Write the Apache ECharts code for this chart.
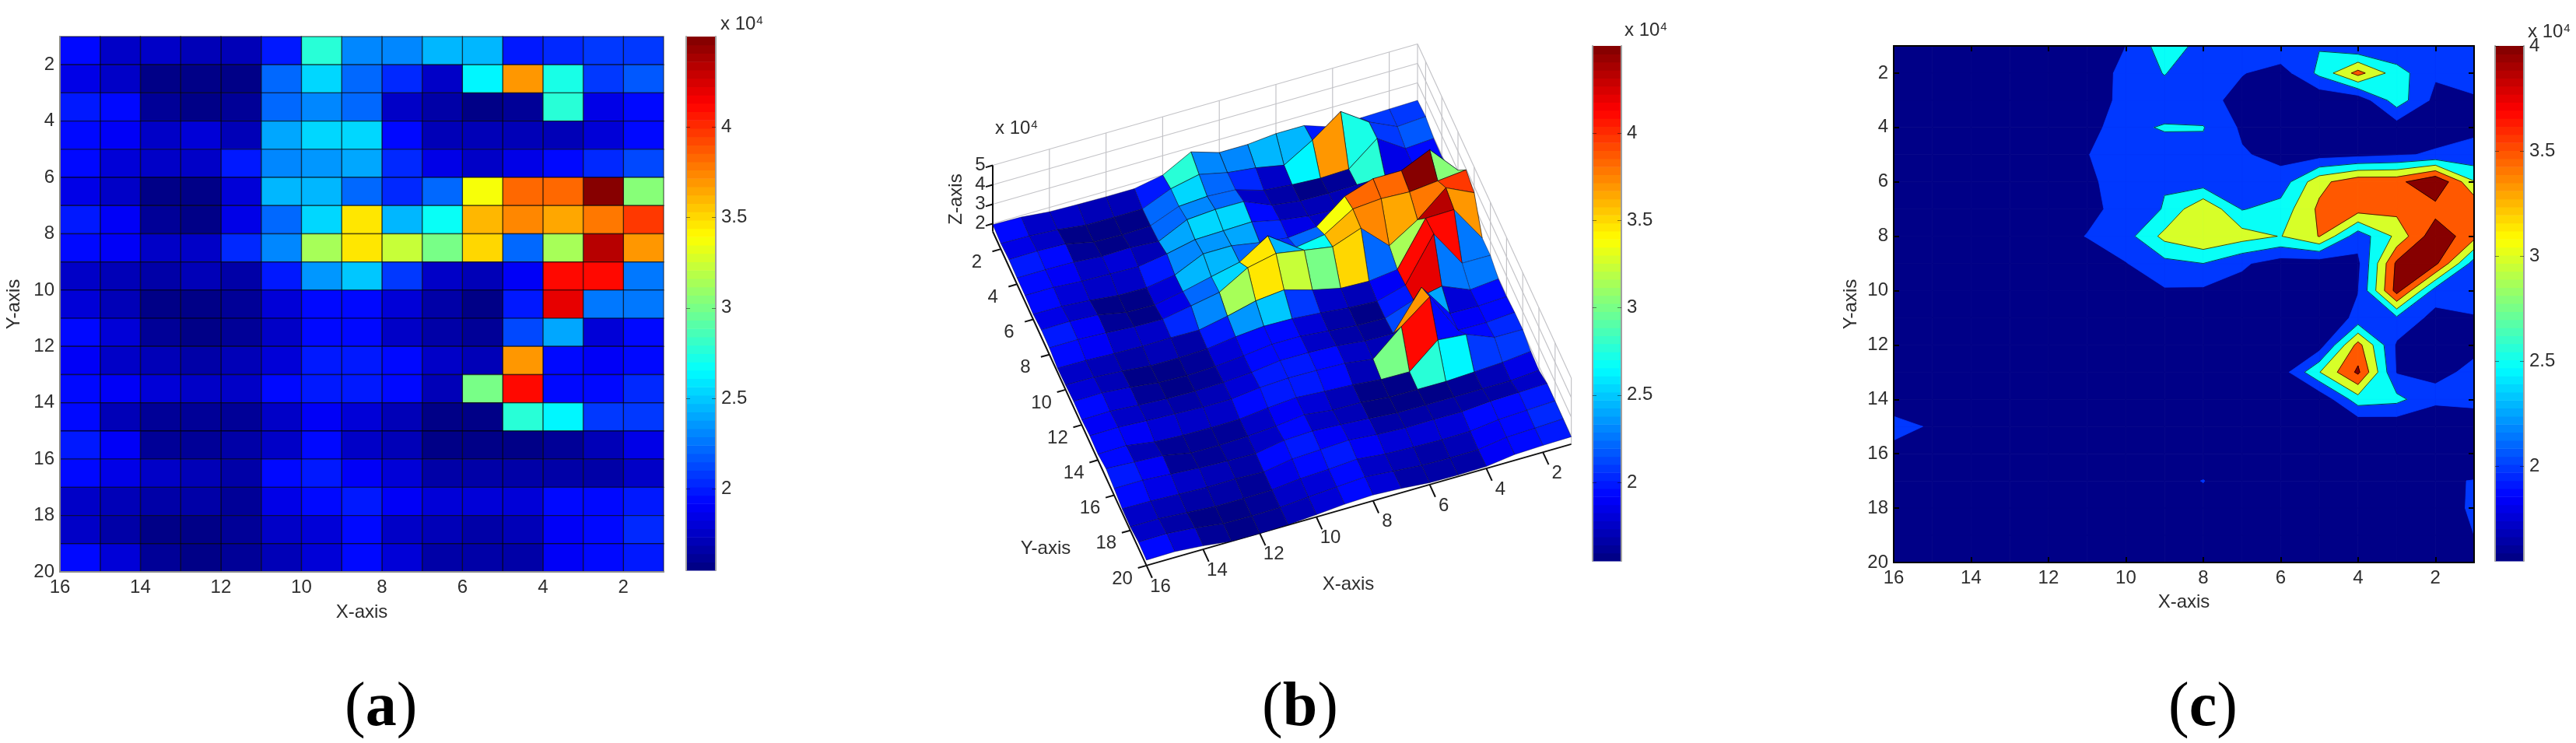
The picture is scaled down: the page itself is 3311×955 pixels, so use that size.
<!DOCTYPE html>
<html>
<head>
<meta charset="utf-8">
<style>
  html, body { margin: 0; padding: 0; background: #fff; }
  #chart { width: 3311px; height: 955px; }
</style>
<script src="https://cdn.jsdelivr.net/npm/echarts@6/dist/echarts.min.js"></script>
</head>
<body>
<div id="chart"></div>
<script>
// x runs 16..1, y runs 1..20, z is in units of 10^4
const xValues = [16, 15, 14, 13, 12, 11, 10, 9, 8, 7, 6, 5, 4, 3, 2, 1];
const xTicks = [16, 14, 12, 10, 8, 6, 4, 2];
const yTicks = [2, 4, 6, 8, 10, 12, 14, 16, 18, 20];
const zTicks3d = [2, 3, 4, 5];
const barTicks = [2, 2.5, 3, 3.5, 4];
const contourLevels = [1.5, 2, 2.5, 3, 3.5, 4];

const row01 = [1.95, 1.92, 1.78, 1.74, 1.72, 1.72, 2.00, 2.78, 2.33, 2.33, 2.47, 2.47, 1.98, 2.03, 2.07, 2.10];
const row02 = [1.88, 1.85, 1.76, 1.58, 1.57, 1.58, 2.20, 2.52, 2.20, 2.03, 1.75, 2.62, 3.68, 2.72, 2.07, 2.17];
const row03 = [1.96, 1.98, 1.93, 1.62, 1.57, 1.62, 2.20, 2.30, 2.22, 1.78, 1.65, 1.57, 1.62, 2.78, 1.85, 1.95];
const row04 = [1.92, 1.92, 1.90, 1.78, 1.82, 1.72, 2.42, 2.53, 2.52, 1.92, 1.72, 1.70, 1.72, 1.72, 1.82, 1.92];
const row05 = [1.92, 1.92, 1.82, 1.78, 1.74, 1.98, 2.30, 2.34, 2.38, 2.05, 1.85, 1.78, 1.85, 1.95, 2.05, 2.13];
const row06 = [1.86, 1.85, 1.74, 1.58, 1.56, 1.80, 2.47, 2.47, 2.22, 2.05, 2.20, 3.35, 3.84, 3.84, 4.50, 3.03];
const row07 = [1.96, 1.98, 1.90, 1.62, 1.58, 1.85, 2.20, 2.53, 3.47, 2.47, 2.70, 3.60, 3.72, 3.65, 3.80, 3.95];
const row08 = [1.94, 1.95, 1.88, 1.78, 1.75, 2.02, 2.30, 3.15, 3.47, 3.22, 2.98, 3.52, 2.20, 3.12, 4.35, 3.68];
const row09 = [1.80, 1.78, 1.72, 1.68, 1.70, 1.68, 1.98, 2.35, 2.50, 2.08, 1.75, 1.70, 1.88, 4.10, 4.13, 2.25];
const row10 = [1.84, 1.82, 1.72, 1.58, 1.57, 1.62, 1.82, 1.95, 1.92, 1.80, 1.65, 1.57, 1.98, 4.20, 2.28, 2.27];
const row11 = [1.90, 1.92, 1.80, 1.62, 1.57, 1.62, 1.75, 1.92, 1.92, 1.78, 1.65, 1.60, 2.12, 2.42, 1.82, 1.96];
const row12 = [1.86, 1.88, 1.78, 1.70, 1.67, 1.70, 1.80, 1.99, 1.98, 1.92, 1.75, 1.72, 3.68, 1.92, 1.88, 1.95];
const row13 = [1.94, 1.96, 1.88, 1.82, 1.75, 1.75, 1.92, 1.99, 1.97, 1.92, 1.72, 2.98, 4.10, 1.96, 1.94, 2.05];
const row14 = [1.90, 1.92, 1.70, 1.62, 1.60, 1.62, 1.78, 1.90, 1.80, 1.72, 1.58, 1.56, 2.78, 2.65, 2.08, 2.07];
const row15 = [2.06, 1.98, 1.90, 1.62, 1.60, 1.65, 1.75, 1.92, 1.74, 1.72, 1.58, 1.56, 1.55, 1.62, 1.70, 1.85];
const row16 = [1.94, 1.95, 1.85, 1.75, 1.70, 1.66, 1.92, 1.98, 1.90, 1.80, 1.68, 1.66, 1.66, 1.66, 1.66, 1.78];
const row17 = [1.80, 1.78, 1.72, 1.66, 1.68, 1.62, 1.86, 1.93, 2.005, 1.88, 1.80, 1.82, 1.80, 1.92, 1.96, 2.01];
const row18 = [1.78, 1.78, 1.68, 1.58, 1.57, 1.60, 1.76, 1.82, 1.93, 1.78, 1.72, 1.68, 1.70, 1.88, 1.95, 2.015];
const row19 = [1.90, 1.92, 1.80, 1.60, 1.58, 1.60, 1.72, 1.82, 1.92, 1.80, 1.68, 1.65, 1.66, 1.88, 1.93, 2.00];
const row20 = [1.88, 1.90, 1.78, 1.60, 1.58, 1.62, 1.72, 1.84, 1.90, 1.82, 1.70, 1.68, 1.70, 1.90, 1.95, 1.98];
const zRows = [row01, row02, row03, row04, row05, row06, row07, row08, row09, row10,
  row11, row12, row13, row14, row15, row16, row17, row18, row19, row20];

const fontFamily = '"Liberation Sans", Arial, sans-serif';
const serifFamily = '"Liberation Serif", serif';
const textColor = '#2e2e2e';
const fontSize = 24;

const zAt = (x, y) => zRows[y - 1][xValues.indexOf(x)];

// matlab jet, 64 steps
const jet = t => {
  const step = Math.min(63, Math.max(0, Math.floor(t * 64)));
  const v = (step + 0.5) / 64;
  const ramp = c => Math.round(255 * Math.max(0, Math.min(1, 1.5 - Math.abs(4 * v - c))));
  return `rgb(${ramp(3)},${ramp(2)},${ramp(1)})`;
};
const colorAB = z => jet((z - 1.55) / (4.5 - 1.55));
const colorC = z => jet((z - 1.55) / (4 - 1.55));

// every cell / facet: its lower corner, coloured by that corner's value
const cells = [];
for (let y = 1; y <= 19; y++) {
  for (let x = 1; x <= 15; x++) {
    cells.push([x, y, zAt(x, y)]);
  }
}

// filled contours: clip each grid square against each level
const clipCell = (corners, level) => {
  const out = [];
  const lines = [];
  corners.forEach((a, i) => {
    const b = corners[(i + 1) % 4];
    if (a[2] >= level) out.push([a[0], a[1], false]);
    if ((a[2] >= level) !== (b[2] >= level)) {
      const k = (level - a[2]) / (b[2] - a[2]);
      out.push([a[0] + k * (b[0] - a[0]), a[1] + k * (b[1] - a[1]), true]);
    }
  });
  out.forEach((p, i) => {
    const q = out[(i + 1) % out.length];
    if (p[2] && q[2]) lines.push([p, q]);
  });
  return { out, lines };
};
const contourFills = [];
const contourLines = [];
contourLevels.forEach(level => {
  cells.forEach(([x, y]) => {
    const corners = [[x, y], [x + 1, y], [x + 1, y + 1], [x, y + 1]].map(p => [p[0], p[1], zAt(p[0], p[1])]);
    const { out, lines } = clipCell(corners, level);
    if (out.length > 2) contourFills.push({ level, points: out });
    if (level > contourLevels[1]) contourLines.push(...lines);
  });
});

// orthographic view of panel b, in page pixels
const project = (x, y, z) => [
  1276 + (16 - x) * 36.4 + (y - 1) * 10.4,
  290 - (16 - x) * 10.4 + (y - 1) * 22.6 - (z - 1.9) * 25
];
const zFloor = 1.6;

const wallLines = [];
zTicks3d.forEach(z => {
  wallLines.push([[16, 1, z], [1, 1, z]], [[1, 1, z], [1, 20, z]]);
});
xTicks.forEach(x => wallLines.push([[x, 1, zFloor], [x, 1, 5]]));
yTicks.forEach(y => wallLines.push([[1, y, zFloor], [1, y, 5]]));
wallLines.push([[1, 1, zFloor], [1, 1, 5]]);

const axisLines3d = [
  [[16, 1, zFloor], [16, 20, zFloor]],
  [[16, 20, zFloor], [1, 20, zFloor]],
  [[16, 1, zFloor], [16, 1, 5]]
];
xTicks.forEach(x => axisLines3d.push([[x, 20, zFloor], [x, 20.7, zFloor]]));
yTicks.forEach(y => axisLines3d.push([[16, y, zFloor], [16.3, y, zFloor]]));
zTicks3d.forEach(z => axisLines3d.push([[16, 1, z], [16.25, 1, z]]));

const labels3d = [];
xTicks.forEach(x => {
  const p = project(x, 20, zFloor);
  labels3d.push({ text: String(x), u: p[0] + 18, v: p[1] + 27 });
});
yTicks.forEach(y => {
  const p = project(16, y, zFloor);
  labels3d.push({ text: String(y), u: p[0] - 31, v: p[1] + 17 });
});
zTicks3d.forEach(z => {
  const p = project(16, 1, z);
  labels3d.push({ text: String(z), u: p[0] - 16, v: p[1] });
});

// colourbar steps
const barSteps = (lo, hi) => {
  const steps = [];
  for (let i = 0; i < 64; i++) {
    steps.push([lo + (hi - lo) * i / 64, lo + (hi - lo) * (i + 1) / 64]);
  }
  return steps;
};

const grids = [
  { left: 77, top: 47, width: 776, height: 688 },     // a
  { left: 882, top: 47, width: 38, height: 686 },     // a bar
  { left: 1150, top: 30, width: 880, height: 760 },   // b, pixel plane
  { left: 2047, top: 59, width: 37, height: 662 },    // b bar
  { left: 2434, top: 59, width: 746, height: 664 },   // c
  { left: 3207, top: 59, width: 37, height: 662 }     // c bar
];

const baseLabel = { color: textColor, fontFamily, fontSize };

const plotAxis = (gridIndex, max, ticks, opts) => ({
  type: 'value', gridIndex, min: 1, max, inverse: true, z: 5,
  splitLine: { show: false },
  axisLine: { show: true, onZero: false, lineStyle: { color: opts.lineColor, width: 2 } },
  axisTick: { show: opts.ticks, inside: true, length: 7, customValues: ticks, lineStyle: { color: '#000', width: 2 } },
  axisLabel: opts.labels ? { ...baseLabel, margin: opts.margin, customValues: ticks } : { show: false },
  position: opts.position,
  name: opts.name, nameLocation: 'middle', nameGap: opts.nameGap,
  nameTextStyle: baseLabel
});
const hiddenX = (gridIndex, min, max) => ({
  type: 'value', gridIndex, min, max, show: false, splitLine: { show: false }
});
const barY = (gridIndex, min, max, labelled) => ({
  type: 'value', gridIndex, min, max, z: 5,
  position: labelled ? 'right' : 'left',
  splitLine: { show: false },
  axisLine: { show: true, onZero: false, lineStyle: { color: '#a0a0a0', width: 2 } },
  axisTick: { show: true, inside: true, length: 5, customValues: barTicks, lineStyle: { color: 'rgba(0,0,0,0.45)', width: 1 } },
  axisLabel: labelled ? { ...baseLabel, margin: 7, customValues: barTicks, formatter: v => String(v) } : { show: false }
});

const xAxes = [
  plotAxis(0, 16, xTicks, { lineColor: '#8a8a8a', ticks: false, labels: true, margin: 8, position: 'bottom', name: 'X-axis', nameGap: 40 }),
  hiddenX(1, 0, 1),
  hiddenX(2, 1150, 2030),
  hiddenX(3, 0, 1),
  plotAxis(4, 16, xTicks, { lineColor: '#000', ticks: true, labels: true, margin: 8, position: 'bottom', name: 'X-axis', nameGap: 39 }),
  plotAxis(4, 16, xTicks, { lineColor: '#000', ticks: true, labels: false, position: 'top' }),
  hiddenX(5, 0, 1)
];
const yAxes = [
  plotAxis(0, 20, yTicks, { lineColor: '#8a8a8a', ticks: false, labels: true, margin: 7, position: 'left', name: 'Y-axis', nameGap: 47 }),
  barY(1, 1.55, 4.5, true),
  barY(1, 1.55, 4.5, false),
  { type: 'value', gridIndex: 2, min: 30, max: 790, inverse: true, show: false, splitLine: { show: false } },
  barY(3, 1.55, 4.5, true),
  barY(3, 1.55, 4.5, false),
  plotAxis(4, 20, yTicks, { lineColor: '#000', ticks: true, labels: true, margin: 7, position: 'left', name: 'Y-axis', nameGap: 43 }),
  plotAxis(4, 20, yTicks, { lineColor: '#000', ticks: true, labels: false, position: 'right' }),
  barY(5, 1.55, 4, true),
  barY(5, 1.55, 4, false)
];

const barSeries = (xAxisIndex, yAxisIndex, lo, hi, colorOf) => ({
  type: 'custom', xAxisIndex, yAxisIndex, silent: true,
  data: barSteps(lo, hi),
  encode: { y: [0, 1] },
  renderItem: (params, api) => {
    const a = api.coord([0, api.value(0)]);
    const b = api.coord([1, api.value(1)]);
    return {
      type: 'rect',
      shape: { x: a[0], y: b[1], width: b[0] - a[0], height: a[1] - b[1] + 0.6 },
      style: { fill: colorOf((api.value(0) + api.value(1)) / 2) }
    };
  }
});

const lineItem = (a, b, stroke, lineWidth) => ({
  type: 'line',
  shape: { x1: a[0], y1: a[1], x2: b[0], y2: b[1] },
  style: { stroke, lineWidth }
});

const series = [
  // a: flat cells
  {
    type: 'custom', xAxisIndex: 0, yAxisIndex: 0, silent: true, data: cells,
    encode: { x: 0, y: 1 },
    renderItem: (params, api) => {
      const x = api.value(0), y = api.value(1);
      const a = api.coord([x, y]);
      const b = api.coord([x + 1, y + 1]);
      return {
        type: 'polygon',
        shape: { points: [a, [b[0], a[1]], b, [a[0], b[1]]] },
        style: { fill: colorAB(api.value(2)), stroke: 'rgba(0,0,0,0.55)', lineWidth: 1.4 }
      };
    }
  },
  barSeries(1, 1, 1.55, 4.5, colorAB),

  // b: back walls, axes, surface, labels
  {
    type: 'custom', xAxisIndex: 2, yAxisIndex: 3, silent: true,
    data: wallLines.map((l, i) => [i]),
    renderItem: (params, api) => {
      const [p, q] = wallLines[params.dataIndex];
      return lineItem(api.coord(project(...p)), api.coord(project(...q)), '#c4c4c8', 1.2);
    }
  },
  {
    type: 'custom', xAxisIndex: 2, yAxisIndex: 3, silent: true,
    data: axisLines3d.map((l, i) => [i]),
    renderItem: (params, api) => {
      const [p, q] = axisLines3d[params.dataIndex];
      return lineItem(api.coord(project(...p)), api.coord(project(...q)), '#111', 2);
    }
  },
  {
    type: 'custom', xAxisIndex: 2, yAxisIndex: 3, silent: true, data: cells,
    renderItem: (params, api) => {
      const x = api.value(0), y = api.value(1);
      const corners = [[x, y], [x + 1, y], [x + 1, y + 1], [x, y + 1]];
      const z = api.value(2);
      return {
        type: 'polygon',
        shape: { points: corners.map(c => api.coord(project(c[0], c[1], zAt(c[0], c[1])))) },
        style: { fill: colorAB(z), stroke: z < 2.3 ? 'rgba(0,0,40,0.4)' : 'rgba(0,0,0,0.6)', lineWidth: 1 }
      };
    }
  },
  {
    type: 'custom', xAxisIndex: 2, yAxisIndex: 3, silent: true,
    data: labels3d.map((l, i) => [i]),
    renderItem: (params, api) => {
      const l = labels3d[params.dataIndex];
      const p = api.coord([l.u, l.v]);
      return {
        type: 'text', x: p[0], y: p[1],
        style: { text: l.text, fill: textColor, font: `${fontSize}px ${fontFamily}`, align: 'center', verticalAlign: 'middle' }
      };
    }
  },
  barSeries(3, 4, 1.55, 4.5, colorAB),

  // c: filled contours then their outlines
  {
    type: 'custom', xAxisIndex: 4, yAxisIndex: 6, silent: true,
    data: contourFills.map((c, i) => [i]),
    renderItem: (params, api) => {
      const piece = contourFills[params.dataIndex];
      const fill = colorC(piece.level);
      return {
        type: 'polygon',
        shape: { points: piece.points.map(p => api.coord([p[0], p[1]])) },
        style: { fill, stroke: fill, lineWidth: 0.8 }
      };
    }
  },
  {
    type: 'custom', xAxisIndex: 4, yAxisIndex: 6, silent: true,
    data: contourLines.map((c, i) => [i]),
    renderItem: (params, api) => {
      const [p, q] = contourLines[params.dataIndex];
      return lineItem(api.coord([p[0], p[1]]), api.coord([q[0], q[1]]), 'rgba(0,0,0,0.7)', 1);
    }
  },
  barSeries(6, 8, 1.55, 4, colorC)
];

const power = (left, top) => ({
  text: '{a|x 10}{s|4}', left, top,
  textStyle: {
    rich: {
      a: { color: textColor, fontFamily, fontSize: 24, fontWeight: 'normal' },
      s: { color: textColor, fontFamily, fontSize: 15, fontWeight: 'normal', verticalAlign: 'top', padding: [0, 0, 10, 1] }
    }
  }
});
const caption = (letter, left) => ({
  text: `{p|(}{b|${letter}}{p|)}`, left, top: 862,
  textStyle: {
    rich: {
      p: { color: '#000', fontFamily: serifFamily, fontSize: 80, fontWeight: 'normal', lineHeight: 88 },
      b: { color: '#000', fontFamily: serifFamily, fontSize: 80, fontWeight: 'bold', lineHeight: 88 }
    }
  }
});
const plainText = (text, x, y, rotation) => ({
  type: 'text', x, y, rotation: rotation || 0,
  style: { text, fill: textColor, font: `${fontSize}px ${fontFamily}`, align: 'center', verticalAlign: 'middle' }
});

const chart = echarts.init(document.getElementById('chart'), null, { renderer: 'canvas' });
chart.setOption({
  backgroundColor: '#fff',
  animation: false,
  tooltip: { show: false },
  title: [
    power(921, 14), power(2083, 22), power(3244, 24), power(1274, 148),
    caption('a', 438), caption('b', 1617), caption('c', 2782)
  ],
  graphic: [
    plainText('Y-axis', 1344, 705),
    plainText('X-axis', 1733, 751),
    plainText('Z-axis', 1229, 256, Math.PI / 2)
  ],
  grid: grids,
  xAxis: xAxes,
  yAxis: yAxes,
  series
});
</script>
</body>
</html>
